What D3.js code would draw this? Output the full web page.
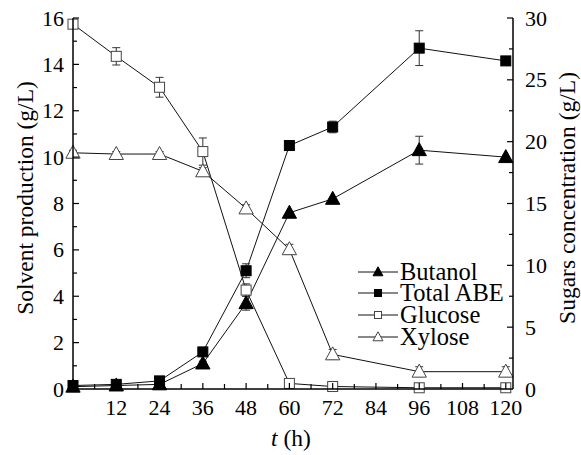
<!DOCTYPE html>
<html><head><meta charset="utf-8">
<script src="https://cdn.jsdelivr.net/npm/d3@7"></script>
<style>
html,body{margin:0;padding:0;background:#fff;}
svg{display:block;}
</style></head>
<body><svg id="c" width="581" height="455"></svg>
<script>
const times = [0, 12, 24, 36, 48, 60, 72, 96, 120];
const butanol = [0.1, 0.15, 0.2, 1.1, 3.7, 7.6, 8.2, 10.3, 10.0];
const butanolErr = [0, 0, 0, 0.1, 0.3, 0, 0, 0.6, 0];
const totalABE = [0.15, 0.2, 0.35, 1.6, 5.1, 10.5, 11.3, 14.7, 14.15];
const totalABEErr = [0, 0, 0, 0, 0.3, 0, 0.25, 0.75, 0];
const glucose = [29.5, 26.9, 24.4, 19.2, 8.0, 0.45, 0.2, 0.1, 0.1];
const glucoseErr = [0.3, 0.7, 0.8, 1.1, 0.5, 0.3, 0.3, 0.3, 0.3];
const xylose = [19.1, 19.0, 19.0, 17.6, 14.6, 11.3, 2.8, 1.4, 1.4];
const xyloseErr = [0.2, 0.2, 0.2, 0.3, 0.3, 0.4, 0.4, 0.4, 0.4];
const xTicks = [12, 24, 36, 48, 60, 72, 84, 96, 108, 120];
const yLeftTicks = [0, 2, 4, 6, 8, 10, 12, 14, 16];
const yRightTicks = [0, 5, 10, 15, 20, 25, 30];
const seriesNames = ["Butanol", "Total ABE", "Glucose", "Xylose"];

const FONT = "'Liberation Serif'";
const svg = d3.select("#c");
const L = 73, R = 513, T = 18, B = 389;
const x = d3.scaleLinear().domain([0, 122]).range([L, R]);
const yL = d3.scaleLinear().domain([0, 16]).range([B, T]);
const yR = d3.scaleLinear().domain([0, 30]).range([B, T]);

const series = [
  {name: seriesNames[0], vals: butanol, err: butanolErr, y: yL, shape: "tri", fill: "#000"},
  {name: seriesNames[1], vals: totalABE, err: totalABEErr, y: yL, shape: "sq", fill: "#000"},
  {name: seriesNames[2], vals: glucose, err: glucoseErr, y: yR, shape: "sq", fill: "#fff"},
  {name: seriesNames[3], vals: xylose, err: xyloseErr, y: yR, shape: "tri", fill: "#fff"}
];

function marker(g, shape, fill, cx, cy, s) {
  if (shape === "sq") {
    g.append("rect").attr("x", cx - s/2).attr("y", cy - s/2).attr("width", s).attr("height", s)
      .attr("fill", fill).attr("stroke", fill === "#000" ? "#000" : "#444").attr("stroke-width", 1);
  } else {
    const p = d3.path();
    p.moveTo(cx, cy - s*0.58); p.lineTo(cx + s*0.55, cy + s*0.42); p.lineTo(cx - s*0.55, cy + s*0.42); p.closePath();
    g.append("path").attr("d", p.toString()).attr("fill", fill)
      .attr("stroke", fill === "#000" ? "#000" : "#444").attr("stroke-width", 1);
  }
}

const line = d3.line();
series.forEach(s => {
  const pts = times.map((t, i) => [x(t), s.y(s.vals[i])]);
  svg.append("path").attr("d", line(pts)).attr("fill", "none").attr("stroke", "#111").attr("stroke-width", 1);
});
series.forEach(s => {
  const g = svg.append("g").attr("stroke", "#333").attr("stroke-width", 1);
  times.forEach((t, i) => {
    const e = s.err[i];
    if (!e) return;
    const cx = x(t), y1 = s.y(s.vals[i] + e), y2 = s.y(s.vals[i] - e);
    g.append("line").attr("x1", cx).attr("x2", cx).attr("y1", y1).attr("y2", y2);
    g.append("line").attr("x1", cx - 4).attr("x2", cx + 4).attr("y1", y1).attr("y2", y1);
    g.append("line").attr("x1", cx - 4).attr("x2", cx + 4).attr("y1", y2).attr("y2", y2);
  });
});
series.forEach(s => {
  const g = svg.append("g");
  times.forEach((t, i) => marker(g, s.shape, s.fill, x(t), s.y(s.vals[i]), s.shape === "sq" ? 10 : 13));
});

const axG = svg.append("g").attr("stroke", "#000").attr("stroke-width", 1.5);
axG.append("line").attr("x1", L).attr("x2", R).attr("y1", B).attr("y2", B);
axG.append("line").attr("x1", L).attr("x2", L).attr("y1", T).attr("y2", B);
axG.append("line").attr("x1", R).attr("x2", R).attr("y1", T).attr("y2", B);

const tickG = svg.append("g").attr("stroke", "#000").attr("stroke-width", 1.2);
for (let t = 6; t <= 120; t += 6) {
  const major = t % 12 === 0;
  tickG.append("line").attr("x1", x(t)).attr("x2", x(t)).attr("y1", B).attr("y2", B - (major ? 6 : 5));
}
for (let v = 1; v <= 16; v++) {
  const major = v % 2 === 0;
  tickG.append("line").attr("x1", L).attr("x2", L + (major ? 6 : 4)).attr("y1", yL(v)).attr("y2", yL(v));
}
for (let v = 2.5; v <= 30; v += 2.5) {
  const major = v % 5 === 0;
  tickG.append("line").attr("x1", R).attr("x2", R - (major ? 6 : 4)).attr("y1", yR(v)).attr("y2", yR(v));
}

function txt(sel) { return sel.style("font-family", FONT).attr("fill", "#000"); }
const fs = 22;
txt(svg.append("g").selectAll("text").data(xTicks).join("text")
  .attr("x", d => x(d)).attr("y", 415).attr("text-anchor", "middle").attr("font-size", fs).text(d => d));
txt(svg.append("g").selectAll("text").data(yLeftTicks).join("text")
  .attr("x", 64).attr("y", d => yL(d) + 7.5).attr("text-anchor", "end").attr("font-size", fs).text(d => d));
txt(svg.append("g").selectAll("text").data(yRightTicks).join("text")
  .attr("x", 525).attr("y", d => yR(d) + 7.5).attr("text-anchor", "start").attr("font-size", fs).text(d => d));

txt(svg.append("text").attr("transform", "translate(33,198) rotate(-90)").attr("text-anchor", "middle")
  .attr("font-size", 23.5).text("Solvent production (g/L)"));
txt(svg.append("text").attr("transform", "translate(575,198) rotate(-90)").attr("text-anchor", "middle")
  .attr("font-size", 23.5).text("Sugars concentration (g/L)"));
const xt = txt(svg.append("text").attr("x", 291).attr("y", 446).attr("text-anchor", "middle").attr("font-size", 23.5));
xt.append("tspan").attr("font-style", "italic").text("t");
xt.append("tspan").text(" (h)");

const legY = [272, 293, 315, 337];
const lg = svg.append("g");
series.forEach((s, i) => {
  const yy = legY[i];
  lg.append("line").attr("x1", 358).attr("x2", 398).attr("y1", yy).attr("y2", yy).attr("stroke", "#111").attr("stroke-width", 1);
  marker(lg, s.shape, s.fill, 378, yy, s.shape === "sq" ? 7 : 9);
  txt(lg.append("text").attr("x", 400).attr("y", yy + 8).attr("font-size", 24.5).text(s.name));
});
</script></body></html>
